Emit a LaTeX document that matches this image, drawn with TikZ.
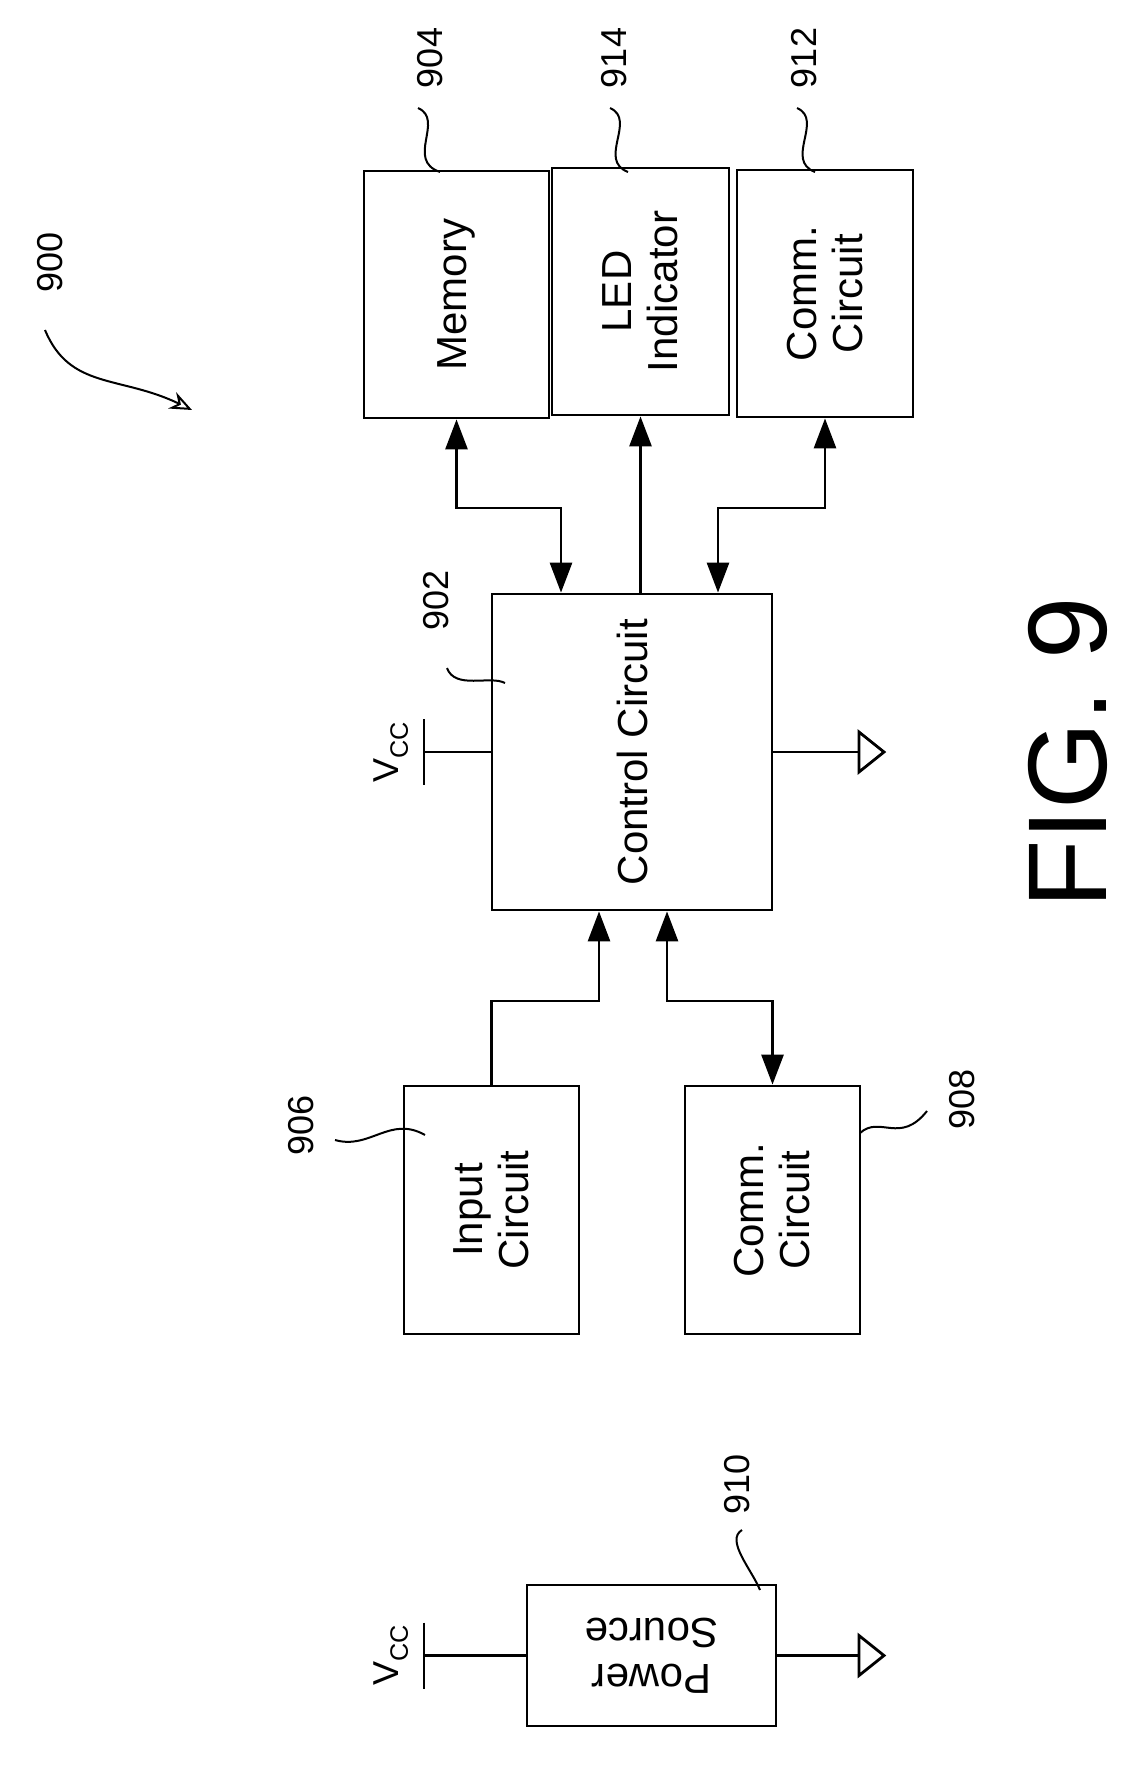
\documentclass[tikz,border=0pt]{standalone}
\usepackage{fontspec}
\setmainfont{Liberation Sans}
\usetikzlibrary{arrows.meta,calc,positioning}
\begin{document}
\begin{tikzpicture}[x=1pt,y=-1pt,line width=2.8pt,
   >={Triangle[length=30pt,width=22pt]}]

   \tikzstyle{block}=[draw,line width=2.8pt,inner sep=0pt]
   \tikzstyle{txt}=[font=\fontsize{42}{46}\selectfont,rotate=90,align=center]
   \tikzstyle{num}=[font=\fontsize{36}{40}\selectfont,rotate=90]
   \tikzstyle{lead}=[line width=2pt]

   \useasboundingbox (0,0) rectangle (1143,1774);

   % boxes
   \node[block,minimum width=185pt,minimum height=247pt] (memory) at (456.5,294.5) {};
   \node[block,minimum width=177pt,minimum height=247pt] (led) at (640.5,291.5) {};
   \node[block,minimum width=176pt,minimum height=247pt] (comm2) at (825,293.5) {};
   \node[block,minimum width=280pt,minimum height=316pt] (ctrl) at (632,752) {};
   \node[block,minimum width=175pt,minimum height=248pt] (input) at (491.5,1210) {};
   \node[block,minimum width=175pt,minimum height=248pt] (comm1) at (772.5,1210) {};
   \node[block,minimum width=249pt,minimum height=141pt] (power) at (651.5,1655.5) {};

   \node[txt] at (memory.center) {Memory};
   \node[txt] at (led.center) {LED\\Indicator};
   \node[txt] at (comm2.center) {Comm.\\Circuit};
   \node[txt] at (ctrl.center) {Control Circuit};
   \node[txt] at (input.center) {Input\\Circuit};
   \node[txt] at (comm1.center) {Comm.\\Circuit};
   \node[txt,rotate=90] at (power.center) {Power\\Source};

   % connectors
   \coordinate (m1) at (561,508);
   \coordinate (m2) at (718,508);
   \coordinate (m3) at (599,1001);
   \coordinate (m4) at (667,1001);
   \draw[<->] (memory.south) |- (m1) -- (m1 |- ctrl.north);
   \draw[->] (led.south |- ctrl.north) -- (led.south);
   \draw[<->] (comm2.south) |- (m2) -- (m2 |- ctrl.north);
   \draw[->] (input.north) |- (m3) -- (m3 |- ctrl.south);
   \draw[<->] (m4 |- ctrl.south) -- (m4) -| (comm1.north);

   % supply and ground
   \coordinate (vc) at (424,752);
   \coordinate (gc) at (859,752);
   \draw (ctrl.west) -- (vc);
   \draw ($(vc)+(0,-33)$) -- ($(vc)+(0,33)$);
   \node[num] at (391,752) {V\textsubscript{CC}};
   \draw (ctrl.east) -- (gc);
   \draw (gc) -- ++(0,-20) -- ++(25,20) -- ++(-25,20) -- cycle;

   \coordinate (vp) at (424,1655.5);
   \coordinate (gp) at (859,1655.5);
   \draw (power.west) -- (vp);
   \draw ($(vp)+(0,-33)$) -- ($(vp)+(0,33)$);
   \node[num] at (391,1655.5) {V\textsubscript{CC}};
   \draw (power.east) -- (gp);
   \draw (gp) -- ++(0,-20) -- ++(25,20) -- ++(-25,20) -- cycle;

   % reference numerals
   \node[num] (n904) at (430,58) {904};
   \node[num] (n914) at (614,58) {914};
   \node[num] (n912) at (804,58) {912};
   \node[num] (n902) at (436,600) {902};
   \node[num] (n906) at (301,1125) {906};
   \node[num] (n908) at (962,1099) {908};
   \node[num] (n910) at (737,1484) {910};
   \node[num] (n900) at (50,262) {900};

   \draw[lead] (418,108) .. controls (445,120) and (405,160) .. (440,172);
   \draw[lead] (610,108) .. controls (637,120) and (597,160) .. (628,172);
   \draw[lead] (797,108) .. controls (824,120) and (784,160) .. (815,172);
   \draw[lead] (447,668) .. controls (455,690) and (490,675) .. (505,683);
   \draw[lead] (335,1140) .. controls (370,1150) and (390,1115) .. (425,1135);
   \draw[lead] (860,1133) .. controls (880,1115) and (900,1145) .. (927,1111);
   \draw[lead] (742,1530) .. controls (725,1540) and (752,1570) .. (760,1590);
   \draw[lead,-{Stealth[length=22pt,width=18pt,open]}] (45,330) .. controls (70,390) and (120,375) .. (192,410);

   \node[font=\fontsize{112}{112}\selectfont,rotate=90] (fig) at (1068,753) {FIG. 9};
\end{tikzpicture}
\end{document}
